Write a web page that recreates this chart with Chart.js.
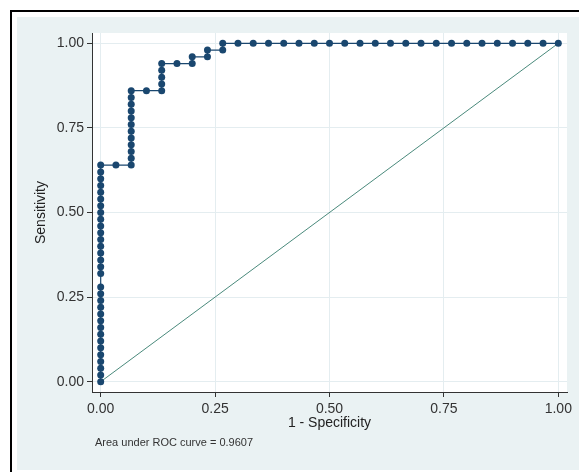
<!DOCTYPE html>
<html>
<head>
<meta charset="utf-8">
<script src="https://cdn.jsdelivr.net/npm/chart.js@4/dist/chart.umd.min.js"></script>
<style>
  body { margin: 0; background: #fff; overflow: hidden; }
  #frame { position: absolute; left: 10px; top: 10px; width: 600px; height: 500px; border: 2px solid #000; }
  #panel { position: absolute; left: 17px; top: 17px; width: 562px; height: 453px; background: #eaf2f3; }
</style>
</head>
<body>
<div id="frame"></div>
<div id="panel"><canvas id="roc" width="562" height="453"></canvas></div>
<script>
// 1 - specificity for each cut point
const fpr = [
  0, 0, 0, 0, 0, 0, 0, 0, 0, 0, 0, 0, 0, 0, 0, 0,
  0, 0, 0, 0, 0, 0, 0, 0, 0, 0, 0, 0, 0, 0, 0, 0,
  0.0333,
  0.0667, 0.0667, 0.0667, 0.0667, 0.0667, 0.0667, 0.0667, 0.0667, 0.0667, 0.0667, 0.0667, 0.0667,
  0.1,
  0.1333, 0.1333, 0.1333, 0.1333, 0.1333,
  0.1667,
  0.2, 0.2,
  0.2333, 0.2333,
  0.2667, 0.2667,
  0.3, 0.3333, 0.3667, 0.4, 0.4333, 0.4667, 0.5, 0.5333, 0.5667, 0.6, 0.6333,
  0.6667, 0.7, 0.7333, 0.7667, 0.8, 0.8333, 0.8667, 0.9, 0.9333, 0.9667, 1
];
// sensitivity for each cut point
const sens = [
  0, 0.02, 0.04, 0.06, 0.08, 0.10, 0.12, 0.14, 0.16, 0.18, 0.20, 0.22, 0.24, 0.26, 0.28, 0.32,
  0.34, 0.36, 0.38, 0.40, 0.42, 0.44, 0.46, 0.48, 0.50, 0.52, 0.54, 0.56, 0.58, 0.60, 0.62, 0.64,
  0.64,
  0.64, 0.66, 0.68, 0.70, 0.72, 0.74, 0.76, 0.78, 0.80, 0.82, 0.84, 0.86,
  0.86,
  0.86, 0.88, 0.90, 0.92, 0.94,
  0.94,
  0.94, 0.96,
  0.96, 0.98,
  0.98, 1,
  1, 1, 1, 1, 1, 1, 1, 1, 1, 1, 1,
  1, 1, 1, 1, 1, 1, 1, 1, 1, 1, 1
];
const refX = [0, 1];
const refY = [0, 1];
const tickVals = [0, 0.25, 0.5, 0.75, 1];
const xTitle = "1 - Specificity";
const yTitle = "Sensitivity";
const note = "Area under ROC curve = 0.9607";

const navy = "#1a476f";
const font = { family: "'Liberation Sans', Arial, sans-serif", size: 14 };

const whiteArea = {
  id: "whiteArea",
  beforeDraw(chart) {
    const { ctx, chartArea: a } = chart;
    ctx.save();
    ctx.fillStyle = "#fff";
    ctx.fillRect(a.left, a.top, a.right - a.left, a.bottom - a.top);
    ctx.restore();
  },
  afterDraw(chart) {
    const ctx = chart.ctx;
    ctx.save();
    ctx.font = "11px 'Liberation Sans', Arial, sans-serif";
    ctx.fillStyle = "#333";
    ctx.textBaseline = "middle";
    ctx.fillText(note, 78, 426);
    ctx.restore();
  }
};

const axis = (title, min, max, pad) => ({
  type: "linear",
  min: min,
  max: max,
  afterBuildTicks: (s) => { s.ticks = tickVals.map(v => ({ value: v })); },
  grid: { color: "#e4edf0", lineWidth: 1, tickColor: "#333", tickLength: 5 },
  border: { color: "#333", width: 1 },
  ticks: { color: "#333", font: font, padding: pad, callback: v => v.toFixed(2) },
  title: { display: true, text: title, color: "#222", font: font }
});

const xAxis = axis(xTitle, -0.019, 1.019, 4);
xAxis.title.padding = { top: 0, bottom: 38 };
xAxis.afterFit = (s) => { s.height = 78; };
const yAxis = axis(yTitle, -0.0304, 1.0304, 3);
yAxis.title.padding = { top: 16, bottom: 0 };
yAxis.afterFit = (s) => { s.width = 75; };

new Chart(document.getElementById("roc"), {
  type: "scatter",
  data: {
    datasets: [
      {
        data: fpr.map((x, i) => ({ x: x, y: sens[i] })),
        showLine: true,
        borderColor: navy,
        borderWidth: 1.2,
        backgroundColor: navy,
        pointBackgroundColor: navy,
        pointBorderWidth: 0,
        pointRadius: 3.5
      },
      {
        data: refX.map((x, i) => ({ x: x, y: refY[i] })),
        showLine: true,
        borderColor: "#4a8a7c",
        borderWidth: 1,
        pointRadius: 0
      }
    ]
  },
  options: {
    responsive: false,
    devicePixelRatio: 1,
    animation: false,
    layout: { padding: { left: 0, top: 16, right: 12, bottom: 0 } },
    plugins: { legend: { display: false }, tooltip: { enabled: false } },
    scales: { x: xAxis, y: yAxis }
  },
  plugins: [whiteArea]
});
</script>
</body>
</html>
